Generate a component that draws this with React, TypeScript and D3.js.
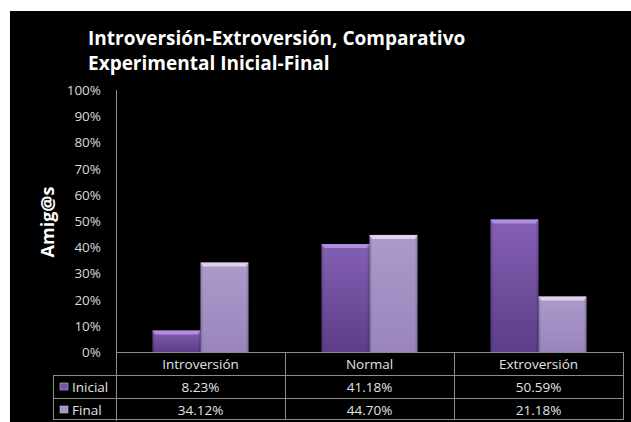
import React from "react";
import * as d3 from "d3";

const categories = ["Introversión", "Normal", "Extroversión"];
const seriesNames = ["Inicial", "Final"];
const inicialValues = [0.0823, 0.4118, 0.5059];
const finalValues = [0.3412, 0.447, 0.2118];
const yTicks = [0, 0.1, 0.2, 0.3, 0.4, 0.5, 0.6, 0.7, 0.8, 0.9, 1.0];
const titleLines = ["Introversión-Extroversión, Comparativo", "Experimental Inicial-Final"];
const yAxisTitle = "Amig@s";

const W = 631;
const H = 422;
const FONT = "'Open Sans', Lato, sans-serif";

const seriesStyle = [
  { id: "gIni", top: "#8460b4", bottom: "#5c3d88", bevel: "#b996e6", swatch: "#7a55a8" },
  { id: "gFin", top: "#ad9acb", bottom: "#9985bb", bevel: "#e6dcf4", swatch: "#a895c8" },
];

export default function App() {
  const plotLeft = 116;
  const plotRight = 623;
  const plotTop = 90;
  const plotBottom = 352;
  const rowH = 23;

  const x = d3.scaleBand<string>().domain(categories).range([plotLeft, plotRight]).paddingInner(0).paddingOuter(0);
  const inner = d3
    .scaleBand<string>()
    .domain(seriesNames)
    .range([0, x.bandwidth()])
    .paddingInner(0)
    .paddingOuter(0.5 * (x.bandwidth() - 96) / 48);
  const y = d3.scaleLinear().domain([0, 1]).range([plotBottom, plotTop]);
  const pct = d3.format(".0%");
  const pct2 = d3.format(".2%");

  const seriesValues = [inicialValues, finalValues];
  const legendLeft = 53;
  const tableBottom = plotBottom + rowH * 3;
  const grid = "#8c8c8c";
  const txt = "#e3e3e3";
  const cellFont = 13.5;

  return (
    <svg width={W} height={H} style={{ position: "absolute", left: 0, top: 0 }}>
      <defs>
        {seriesStyle.map((s) => (
          <linearGradient key={s.id} id={s.id} x1="0" y1="0" x2="0" y2="1">
            <stop offset="0" stopColor={s.top} />
            <stop offset="1" stopColor={s.bottom} />
          </linearGradient>
        ))}
      </defs>
      <rect x={10} y={11} width={W - 10} height={H - 11} fill="#000" />

      <text x={88} y={45} fill="#fff" fontFamily={FONT} fontWeight="bold" fontSize={19}>
        {titleLines.map((t, i) => (
          <tspan key={i} x={88} dy={i === 0 ? 0 : 25}>
            {t}
          </tspan>
        ))}
      </text>

      <text
        transform={`translate(54,${222}) rotate(-90)`}
        textAnchor="middle"
        fill="#fff"
        fontFamily={FONT}
        fontWeight="bold"
        fontSize={18}
      >
        {yAxisTitle}
      </text>

      {yTicks.map((t) => (
        <text key={t} x={101} y={y(t) + 5} textAnchor="end" fill="#d9d9d9" fontFamily={FONT} fontSize={13.5}>
          {pct(t)}
        </text>
      ))}

      <line x1={plotLeft + 0.5} x2={plotLeft + 0.5} y1={plotTop} y2={tableBottom} stroke={grid} />

      {categories.map((c, ci) =>
        seriesNames.map((s, si) => {
          const v = seriesValues[si][ci];
          const bx = (x(c) as number) + (inner(s) as number);
          const bw = inner.bandwidth();
          const by = y(v);
          const bh = plotBottom - by;
          const st = seriesStyle[si];
          return (
            <g key={c + s}>
              <rect x={bx} y={by} width={bw} height={bh} fill={`url(#${st.id})`} />
              <polygon
                points={`${bx},${by} ${bx + bw},${by} ${bx + bw - 3},${by + 4} ${bx + 3},${by + 4}`}
                fill={st.bevel}
                opacity={0.85}
              />
              <rect x={bx} y={by + 4} width={2} height={bh - 4} fill="#000" opacity={0.12} />
              <rect x={bx + bw - 2} y={by + 4} width={2} height={bh - 4} fill="#000" opacity={0.12} />
            </g>
          );
        })
      )}

      {/* data table under the plot */}
      <g stroke={grid} strokeWidth={1} fill="none">
        <line x1={plotLeft} x2={plotRight} y1={plotBottom + 0.5} y2={plotBottom + 0.5} />
        <line x1={legendLeft} x2={plotRight} y1={plotBottom + rowH + 0.5} y2={plotBottom + rowH + 0.5} />
        <line x1={legendLeft} x2={plotRight} y1={plotBottom + 2 * rowH + 0.5} y2={plotBottom + 2 * rowH + 0.5} />
        <line x1={legendLeft} x2={plotRight} y1={tableBottom - 1.5} y2={tableBottom - 1.5} />
        <line x1={legendLeft + 0.5} x2={legendLeft + 0.5} y1={plotBottom + rowH} y2={tableBottom - 1} />
        {categories.map((c) => (
          <line key={c} x1={(x(c) as number) + x.bandwidth() + 0.5} x2={(x(c) as number) + x.bandwidth() + 0.5} y1={plotBottom} y2={tableBottom - 1} />
        ))}
      </g>

      {categories.map((c) => (
        <text
          key={c}
          x={(x(c) as number) + x.bandwidth() / 2}
          y={plotBottom + 16.5}
          textAnchor="middle"
          fill={txt}
          fontFamily={FONT}
          fontSize={cellFont}
        >
          {c}
        </text>
      ))}

      {seriesNames.map((s, si) => (
        <g key={s}>
          <rect x={60} y={plotBottom + rowH * (si + 1) + 8} width={8} height={7} fill={seriesStyle[si].swatch} stroke="#d8c8f0" strokeWidth={0.5} />
          <text x={72} y={plotBottom + rowH * (si + 1) + 16.5} fill={txt} fontFamily={FONT} fontSize={cellFont}>
            {s}
          </text>
          {categories.map((c, ci) => (
            <text
              key={c}
              x={(x(c) as number) + x.bandwidth() / 2}
              y={plotBottom + rowH * (si + 1) + 16.5}
              textAnchor="middle"
              fill={txt}
              fontFamily={FONT}
              fontSize={cellFont}
            >
              {pct2(seriesValues[si][ci])}
            </text>
          ))}
        </g>
      ))}
    </svg>
  );
}
